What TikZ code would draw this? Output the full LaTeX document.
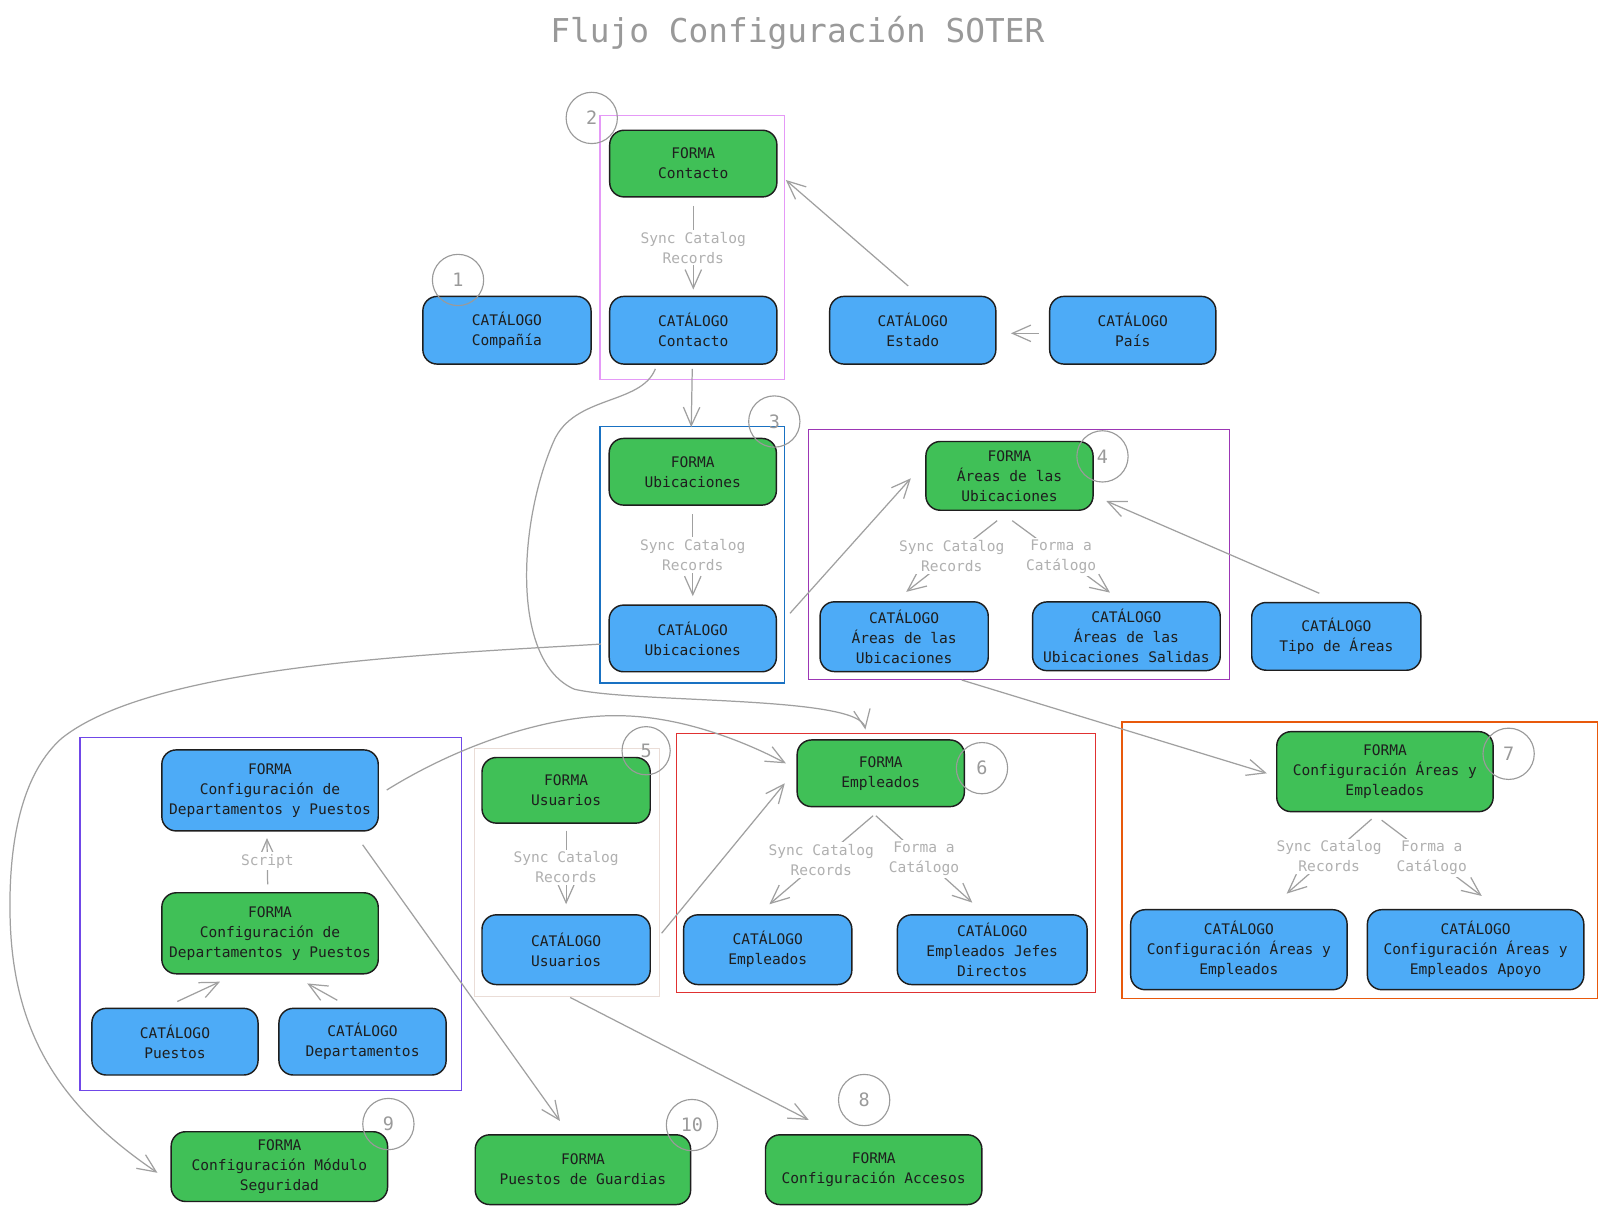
\documentclass[tikz,border=0pt]{standalone}
\usepackage{fontspec}
\newfontfamily\handfont{DejaVu Sans Mono}
\usetikzlibrary{arrows.meta,calc}
\definecolor{ink}{HTML}{1E1E1E}
\definecolor{ggreen}{HTML}{40C057}
\definecolor{bblue}{HTML}{4DABF7}
\definecolor{agray}{HTML}{A0A0A0}
\definecolor{lgray}{HTML}{B0B0B0}
\definecolor{cgray}{HTML}{9A9A9A}
\definecolor{tgray}{HTML}{999999}
\definecolor{pinkF}{HTML}{E599F7}
\definecolor{blueF}{HTML}{1971C2}
\definecolor{purpleF}{HTML}{9C36B5}
\definecolor{indigoF}{HTML}{7048E8}
\definecolor{beigeF}{HTML}{EADDD7}
\definecolor{redF}{HTML}{E03131}
\definecolor{orangeF}{HTML}{E8590C}
\newcommand\nodefnt{\handfont\fontsize{14.2pt}{19.5pt}\selectfont}
\newcommand\numfnt{\handfont\fontsize{18pt}{20pt}\selectfont}
\newcommand\titlefnt{\handfont\fontsize{32pt}{36pt}\selectfont}
\tikzset{
  box/.style={draw=ink, line width=1.4pt, rounded corners=14pt, align=center, font=\nodefnt, text=ink, inner sep=0pt},
  gbox/.style={box, fill=ggreen},
  bbox/.style={box, fill=bblue},
  frm/.style={draw, line width=1.1pt, inner sep=0pt, fill=none, rectangle},
  arr/.style={draw=agray, line width=1.2pt, -{Straight Barb[length=18pt,width=16pt]}},
  lbl/.style={font=\nodefnt, text=lgray, fill=white, align=center, inner sep=2pt},
  num/.style={circle, draw=cgray, line width=1.1pt, minimum size=50pt, inner sep=0pt, text=cgray, font=\numfnt},
}
\begin{document}
\begin{tikzpicture}[x=1pt,y=-1pt]
\fill[white] (0,0) rectangle (1564,1184);
\useasboundingbox (0,0) rectangle (1564,1184);

% title
\node[font=\titlefnt, text=tgray, anchor=base] (title) at (777.5,41) {Flujo Configuración SOTER};

% frames
\node[frm, draw=pinkF, minimum width=180pt, minimum height=257pt] (fpink) at (675,241.5) {};
\node[frm, draw=blueF, minimum width=180pt, minimum height=250pt] (fblue) at (675,541) {};
\node[frm, draw=purpleF, minimum width=411pt, minimum height=244pt] (fpurple) at (993.5,540.5) {};
\node[frm, draw=indigoF, minimum width=372pt, minimum height=344pt] (findigo) at (264,891) {};
\node[frm, draw=beigeF, minimum width=180pt, minimum height=242pt] (fbeige) at (553,851) {};
\node[frm, draw=redF, minimum width=408pt, minimum height=253pt] (fred) at (864,841.5) {};
\node[frm, draw=orangeF, minimum width=464pt, minimum height=270pt] (forange) at (1326,839) {};

% nodes
\node[gbox, minimum width=163pt, minimum height=65pt] (fcont) at (676,159.5) {FORMA\\Contacto};
\node[bbox, minimum width=163pt, minimum height=66pt] (ccont) at (676,322) {CATÁLOGO\\Contacto};
\node[bbox, minimum width=164pt, minimum height=66pt] (ccomp) at (494.3,322) {CATÁLOGO\\Compañía};
\node[bbox, minimum width=162pt, minimum height=66pt] (cest) at (890,322) {CATÁLOGO\\Estado};
\node[bbox, minimum width=162pt, minimum height=66pt] (cpais) at (1104.5,322) {CATÁLOGO\\País};
\node[gbox, minimum width=163pt, minimum height=65pt] (fubic) at (675.5,460) {FORMA\\Ubicaciones};
\node[bbox, minimum width=163pt, minimum height=65pt] (cubic) at (675.5,622.5) {CATÁLOGO\\Ubicaciones};
\node[gbox, minimum width=163pt, minimum height=67pt] (fareas) at (984.3,464) {FORMA\\Áreas de las\\Ubicaciones};
\node[bbox, minimum width=164pt, minimum height=68pt] (careas) at (881.6,620.8) {CATÁLOGO\\Áreas de las\\Ubicaciones};
\node[bbox, minimum width=183pt, minimum height=67pt] (csal) at (1098.3,620.4) {CATÁLOGO\\Áreas de las\\Ubicaciones Salidas};
\node[bbox, minimum width=165pt, minimum height=66pt] (ctipo) at (1303,620.5) {CATÁLOGO\\Tipo de Áreas};
\node[gbox, minimum width=211pt, minimum height=78pt] (fcae) at (1350.4,752.4) {FORMA\\Configuración Áreas y\\Empleados};
\node[bbox, minimum width=211pt, minimum height=78pt] (cae) at (1208,926) {CATÁLOGO\\Configuración Áreas y\\Empleados};
\node[bbox, minimum width=211pt, minimum height=78pt] (capoyo) at (1438.8,926) {CATÁLOGO\\Configuración Áreas y\\Empleados Apoyo};
\node[gbox, minimum width=163pt, minimum height=65pt] (femp) at (858.8,754) {FORMA\\Empleados};
\node[bbox, minimum width=164pt, minimum height=68pt] (cemp) at (748.6,926) {CATÁLOGO\\Empleados};
\node[bbox, minimum width=185pt, minimum height=68pt] (cjefes) at (967.5,926) {CATÁLOGO\\Empleados Jefes\\Directos};
\node[gbox, minimum width=164pt, minimum height=64pt] (fusu) at (552,770.6) {FORMA\\Usuarios};
\node[bbox, minimum width=164pt, minimum height=68pt] (cusu) at (552,926) {CATÁLOGO\\Usuarios};
\node[bbox, minimum width=211pt, minimum height=79pt] (fdeptoB) at (263.3,770.7) {FORMA\\Configuración de\\Departamentos y Puestos};
\node[gbox, minimum width=211pt, minimum height=79pt] (fdeptoG) at (263.3,910) {FORMA\\Configuración de\\Departamentos y Puestos};
\node[bbox, minimum width=162pt, minimum height=65pt] (cpuestos) at (170.6,1015.7) {CATÁLOGO\\Puestos};
\node[bbox, minimum width=163pt, minimum height=65pt] (cdeptos) at (353.5,1015.7) {CATÁLOGO\\Departamentos};
\node[gbox, minimum width=211pt, minimum height=68pt] (fseg) at (272.4,1137.5) {FORMA\\Configuración Módulo\\Seguridad};
\node[gbox, minimum width=210pt, minimum height=68pt] (fguard) at (568.4,1140.5) {FORMA\\Puestos de Guardias};
\node[gbox, minimum width=211pt, minimum height=68pt] (facc) at (851.9,1140.5) {FORMA\\Configuración Accesos};

% connectors
\draw[arr] ([shift={(0,8)}]fcont.south) -- node[lbl]{Sync Catalog\\Records} ([shift={(0,-6)}]ccont.north);
\draw[arr] ([shift={(-4.5,-9.5)}]cest.north) -- ([shift={(8,16)}]fcont.east);
\draw[arr] ([shift={(-10,3)}]cpais.west) -- ([shift={(14,3)}]cest.east);
\draw[arr] ([shift={(-1,4)}]ccont.south) -- ([shift={(-1,1)}]fblue.north);
\draw[arr] ([shift={(-37,4)}]ccont.south) .. controls (625,395) and (560,385) .. (540,430) .. controls (505,510) and (498,645) .. (560,672) .. controls (620,686) and (838,678) .. ([shift={(-15,-9.5)}]femp.north);
\draw[arr] ([shift={(0,8)}]fubic.south) -- node[lbl]{Sync Catalog\\Records} ([shift={(0,-8)}]cubic.north);
\draw[arr] ([shift={(12.6,-24.5)}]cubic.east) -- ([shift={(-14,2.4)}]fareas.west);
\draw[arr] ([shift={(-7.3,5.5)}]cubic.west) .. controls (420,638) and (150,648) .. (60,720) .. controls (15,760) and (8,840) .. (10,900) .. controls (14,1010) and (60,1080) .. ([shift={(-12.7,6)}]fseg.west);
\draw[arr] ([shift={(-12,9.5)}]fareas.south) -- node[lbl]{Sync Catalog\\Records} ([shift={(2,-9)}]careas.north);
\draw[arr] ([shift={(2.7,9.5)}]fareas.south) -- node[lbl]{Forma a\\Catálogo} ([shift={(-16,-8.4)}]csal.north);
\draw[arr] ([shift={(-16.6,-8.3)}]ctipo.north) -- ([shift={(12.2,24.5)}]fareas.east);
\draw[arr] ([shift={(-55.8,0)}]fpurple.south) -- ([shift={(-9,1.6)}]fcae.west);
\draw[arr] ([shift={(-13,6.6)}]fcae.south) -- node[lbl]{Sync Catalog\\Records} ([shift={(46.6,-15)}]cae.north);
\draw[arr] ([shift={(-3.2,7.6)}]fcae.south) -- node[lbl]{Forma a\\Catálogo} ([shift={(6,-12.7)}]capoyo.north);
\draw[arr] ([shift={(-7.5,8.2)}]femp.south) -- node[lbl]{Sync Catalog\\Records} ([shift={(1.6,-9.6)}]cemp.north);
\draw[arr] ([shift={(-4.8,8.2)}]femp.south) -- node[lbl]{Forma a\\Catálogo} ([shift={(-19.5,-11.2)}]cjefes.north);
\draw[arr] ([shift={(10.4,-16)}]cusu.east) -- ([shift={(-11.4,9.8)}]femp.west);
\draw[arr] ([shift={(7.6,-0.4)}]fdeptoB.east) .. controls (450,725) and (540,695) .. (610,698) .. controls (670,700) and (730,725) .. ([shift={(-10.3,-9.7)}]femp.west);
\draw[arr] ([shift={(0,6.5)}]fusu.south) -- node[lbl]{Sync Catalog\\Records} ([shift={(0,-9.6)}]cusu.north);
\draw[arr] ([shift={(-2.3,-7.5)}]fdeptoG.north) -- node[lbl]{Script} ([shift={(-3,6.2)}]fdeptoB.south);
\draw[arr] ([shift={(2.3,-6)}]cpuestos.north) -- ([shift={(-48.8,7)}]fdeptoG.south);
\draw[arr] ([shift={(-24.6,-7.2)}]cdeptos.north) -- ([shift={(36.3,8.7)}]fdeptoG.south);
\draw[arr] ([shift={(90.3,12.8)}]fdeptoB.south) -- ([shift={(-22.4,-12.8)}]fguard.north);
\draw[arr] ([shift={(3,0)}]fbeige.south) -- ([shift={(-63.4,-13.8)}]facc.north);

% numbered circles
\node[num] (n1) at (446.6,273) {1};
\node[num] (n2) at (577,115) {2};
\node[num] (n3) at (755,411) {3};
\node[num] (n4) at (1075,445) {4};
\node[num, minimum size=47pt] (n5) at (630,732) {5};
\node[num] (n6) at (957.5,749) {6};
\node[num] (n7) at (1471,735) {7};
\node[num] (n8) at (842.6,1072.6) {8};
\node[num] (n9) at (378.7,1096) {9};
\node[num] (n10) at (674.7,1097) {10};
\end{tikzpicture}
\end{document}
